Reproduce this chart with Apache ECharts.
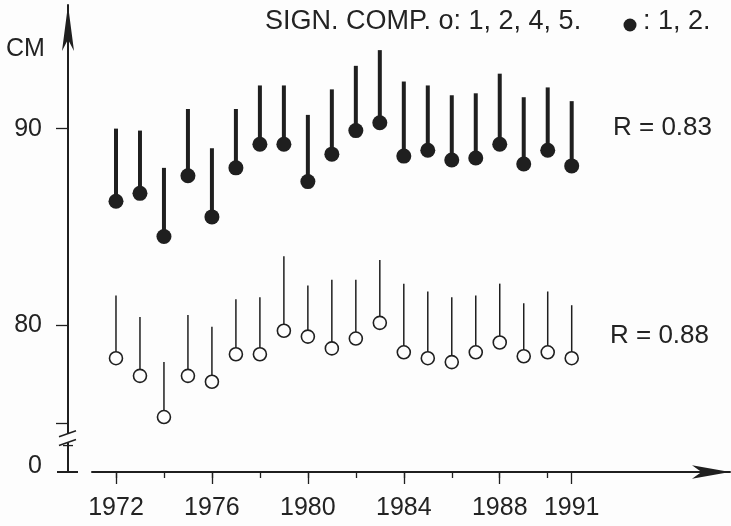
<!DOCTYPE html>
<html>
<head>
<meta charset="utf-8">
<script src="https://cdn.jsdelivr.net/npm/echarts@6/dist/echarts.min.js"></script>
<style>
  html, body { margin: 0; padding: 0; background: #fdfdfd; }
  #chart { width: 731px; height: 526px; }
</style>
</head>
<body>
<div id="chart"></div>
<script>
// values (cm)
const years = [1972, 1973, 1974, 1975, 1976, 1977, 1978, 1979, 1980, 1981,
               1982, 1983, 1984, 1985, 1986, 1987, 1988, 1989, 1990, 1991];
// filled dots (sign. comp. 1, 2) and the top of their stems
const filledDot = [86.3, 86.7, 84.5, 87.6, 85.5, 88.0, 89.2, 89.2, 87.3, 88.7,
                   89.9, 90.3, 88.6, 88.9, 88.4, 88.5, 89.2, 88.2, 88.9, 88.1];
const filledTop = [90.0, 89.9, 88.0, 91.0, 89.0, 91.0, 92.2, 92.2, 90.7, 92.0,
                   93.2, 94.0, 92.4, 92.2, 91.7, 91.8, 92.8, 91.6, 92.1, 91.4];
// open circles (sign. comp. 1, 2, 4, 5) and the top of their stems
const openDot = [78.3, 77.4, 75.3, 77.4, 77.1, 78.5, 78.5, 79.7, 79.4, 78.8,
                 79.3, 80.1, 78.6, 78.3, 78.1, 78.6, 79.1, 78.4, 78.6, 78.3];
const openTop = [81.5, 80.4, 78.1, 80.5, 79.9, 81.3, 81.4, 83.5, 82.0, 82.3,
                 82.3, 83.3, 82.1, 81.7, 81.4, 81.5, 82.1, 81.1, 81.7, 81.0];

const minorYears = [1972, 1974, 1976, 1978, 1980, 1982, 1984, 1986, 1988, 1990];
const labelYears = [1972, 1976, 1980, 1984, 1988, 1991];
const yTicks = [75, 80, 90];
const yLabels = [72.5, 80, 90];   // 72.5 is the broken-axis "0"
const rLabels = ['R = 0.83', 'R = 0.88'];

const ink = '#1f1f1f';
const txt = '#232323';
const font = 'Liberation Sans, Arial, Helvetica, sans-serif';

let chart = echarts.init(document.getElementById('chart'));

function stem(width) {
  return function (params, api) {
    let a = api.coord([api.value(0), api.value(1)]);
    let b = api.coord([api.value(0), api.value(2)]);
    return {
      type: 'line',
      shape: { x1: a[0], y1: a[1], x2: b[0], y2: b[1] },
      style: { stroke: ink, lineWidth: width }
    };
  };
}

let option = {
  backgroundColor: '#fdfdfd',
  animation: false,
  grid: { left: 92, right: 1, top: 5, bottom: 54 },
  xAxis: [
    {
      type: 'value', min: 1971, max: 1997.6,
      splitLine: { show: false },
      axisLine: { lineStyle: { color: ink, width: 2 }, symbol: ['none', 'arrow'], symbolSize: [10, 38], symbolOffset: [0, 0] },
      axisTick: { customValues: minorYears, length: 6, lineStyle: { color: ink, width: 1.3 } },
      axisLabel: { show: false }
    },
    {
      type: 'value', min: 1971, max: 1997.6, position: 'bottom',
      splitLine: { show: false },
      axisLine: { show: false },
      axisTick: { customValues: labelYears, length: 12, lineStyle: { color: ink, width: 1.3 } },
      axisLabel: {
        customValues: labelYears, margin: 24, color: txt, fontSize: 25, fontFamily: font,
        formatter: v => String(v)
      }
    }
  ],
  yAxis: {
    type: 'value', min: 72.5, max: 96.3, offset: 24,
    splitLine: { show: false },
    axisLine: { lineStyle: { color: ink, width: 2 }, symbol: ['none', 'arrow'], symbolSize: [9, 46], symbolOffset: [0, 0] },
    axisTick: { customValues: yTicks, length: 12, lineStyle: { color: ink, width: 1.3 } },
    axisLabel: {
      customValues: yLabels, margin: 26, color: txt, fontSize: 25, fontFamily: font,
      formatter: v => v === 72.5 ? '{z|0}' : String(v),
      rich: { z: { fontSize: 25, fontFamily: font, color: txt, padding: [0, 0, 12, 0] } }
    }
  },
  series: [
    {
      type: 'custom', renderItem: stem(4),
      data: years.map((y, i) => [y, filledDot[i], filledTop[i]]), z: 2
    },
    {
      type: 'custom', renderItem: stem(1.5),
      data: years.map((y, i) => [y, openDot[i], openTop[i]]), z: 2
    },
    {
      type: 'scatter', symbol: 'circle', symbolSize: 15, z: 3,
      itemStyle: { color: ink, opacity: 1 },
      data: years.map((y, i) => [y, filledDot[i]])
    },
    {
      type: 'scatter', symbol: 'circle', symbolSize: 13, z: 3,
      itemStyle: { color: '#fdfdfd', borderColor: ink, borderWidth: 1.6, opacity: 1 },
      data: years.map((y, i) => [y, openDot[i]])
    }
  ]
};

chart.setOption(option);

// decorations tied to the axes: axis break, zero bar, texts
let ax = chart.convertToPixel({ xAxisIndex: 0 }, 1971) - 24;
let yGapTop = chart.convertToPixel({ yAxisIndex: 0 }, 74.45);
let yGapBot = chart.convertToPixel({ yAxisIndex: 0 }, 74.0);
let yZero = chart.convertToPixel({ yAxisIndex: 0 }, 72.5);
let yR1 = chart.convertToPixel({ yAxisIndex: 0 }, 90);
let yR2 = chart.convertToPixel({ yAxisIndex: 0 }, 79.5);

chart.setOption({
  graphic: [
    { type: 'rect', shape: { x: ax - 4, y: yGapTop, width: 8, height: yGapBot - yGapTop }, style: { fill: '#fdfdfd' }, z: 10 },
    { type: 'line', shape: { x1: ax - 9, y1: yGapTop + 3, x2: ax + 8, y2: yGapTop - 3 }, style: { stroke: ink, lineWidth: 1.5 }, z: 11 },
    { type: 'line', shape: { x1: ax - 9, y1: yGapBot + 3, x2: ax + 8, y2: yGapBot - 3 }, style: { stroke: ink, lineWidth: 1.5 }, z: 11 },
    { type: 'line', shape: { x1: ax - 5, y1: yGapBot + 3, x2: ax + 5, y2: yGapBot + 3 }, style: { stroke: ink, lineWidth: 1.3 }, z: 11 },
    { type: 'line', shape: { x1: ax - 11, y1: yZero, x2: ax + 10, y2: yZero }, style: { stroke: ink, lineWidth: 2 }, z: 11 },
    { type: 'text', x: 6, y: 37, style: { text: 'CM', fontSize: 25, fontFamily: font, fill: txt } },
    { type: 'text', x: 265, y: 22, style: { text: 'SIGN. COMP. o: 1, 2, 4, 5.', fontSize: 27, fontFamily: font, fill: txt, verticalAlign: 'middle' } },
    { type: 'circle', shape: { cx: 630, cy: 25, r: 6.5 }, style: { fill: ink } },
    { type: 'text', x: 643, y: 22, style: { text: ': 1, 2.', fontSize: 27, fontFamily: font, fill: txt, verticalAlign: 'middle' } },
    { type: 'text', x: 613, y: yR1 - 1, style: { text: rLabels[0], fontSize: 26, fontFamily: font, fill: txt, verticalAlign: 'middle' } },
    { type: 'text', x: 610, y: yR2 + 1, style: { text: rLabels[1], fontSize: 26, fontFamily: font, fill: txt, verticalAlign: 'middle' } }
  ]
});
</script>
</body>
</html>
